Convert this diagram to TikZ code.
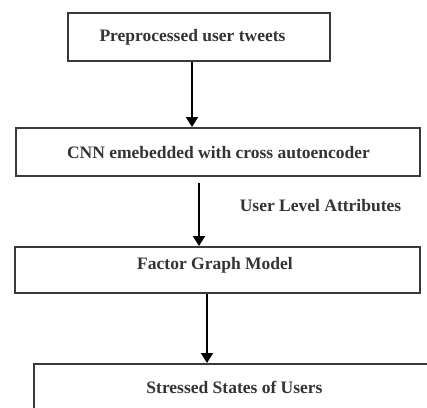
\documentclass[tikz,border=0pt]{standalone}
\usepackage{fontspec}
\setmainfont{Liberation Serif}
\usetikzlibrary{arrows.meta}
\definecolor{boxline}{HTML}{3A3A3A}
\definecolor{txt}{HTML}{333333}
\begin{document}
\begin{tikzpicture}[x=1pt,y=-1pt,
  frame/.style={draw=boxline, line width=1.6pt, inner sep=0pt, anchor=north west},
  lbl/.style={text=txt, inner sep=0pt, font=\fontsize{17.5}{20}\selectfont\bfseries},
  arr/.style={draw=black, line width=2pt, -{Triangle[width=12pt,length=10pt]}}]
\useasboundingbox (0,0) rectangle (427,407);
% boxes
\node[frame, minimum width=262pt, minimum height=48pt] (b1) at (67,12) {};
\node[frame, minimum width=404pt, minimum height=48pt] (b2) at (15,127) {};
\node[frame, minimum width=405pt, minimum height=46pt] (b3) at (14,246) {};
\node[frame, minimum width=430pt, minimum height=80pt] (b4) at (33,363) {};
% texts
\node[lbl] (t1) at (192.5,37) {Preprocessed user tweets};
\node[lbl] (t2) at (218.5,153) {CNN emebedded with cross autoencoder};
\node[lbl] (t3) at (215,265) {Factor Graph Model};
\node[lbl] (t4) at (234.5,387) {Stressed States of Users};
\node[lbl] (ula) at (320.5,206) {User Level Attributes};
% arrow x positions
\coordinate (x1) at (192,0);
\coordinate (x2) at (199,0);
\coordinate (x3) at (207,0);
% connectors
\draw[arr] (b1.south -| x1) -- (b2.north -| x1);
\draw[arr, shorten <=6pt] (b2.south -| x2) -- (b3.north -| x2);
\draw[arr] (b3.south -| x3) -- (b4.north -| x3);
\end{tikzpicture}
\end{document}
